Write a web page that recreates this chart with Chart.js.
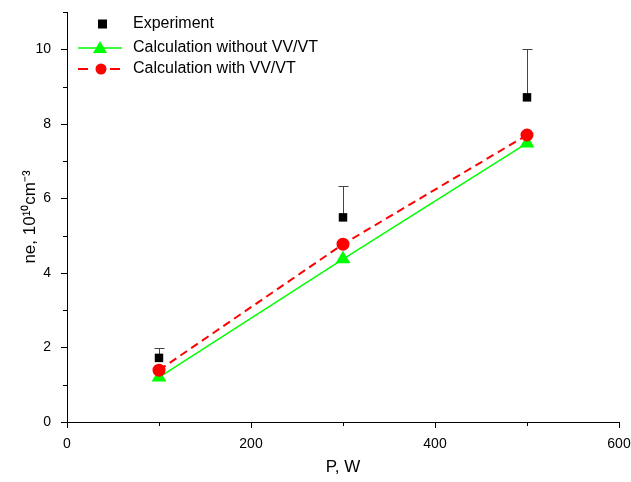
<!DOCTYPE html>
<html>
<head>
<meta charset="utf-8">
<script src="https://cdn.jsdelivr.net/npm/chart.js@4.4.1/dist/chart.umd.min.js"></script>
<style>
  html, body { margin: 0; padding: 0; background: #fff; }
  #wrap { width: 631px; height: 482px; }
</style>
</head>
<body>
<div id="wrap"><canvas id="chart" width="631" height="482"></canvas></div>
<script>
'use strict';

// Data
const power = [100, 300, 500];
const experiment = [1.72, 5.49, 8.71];
const experimentErr = [0.26, 0.84, 1.29];
const calcWithout = [1.2, 4.37, 7.48];
const calcWith = [1.39, 4.77, 7.7];
const xTicks = [0, 200, 400, 600];
const yTicks = [0, 2, 4, 6, 8, 10];

const FONT = '"Liberation Sans", Arial, sans-serif';

const toPoints = function (ys) {
    return power.map((x, i) => ({ x: x, y: ys[i] }));
};

// Error bars (upper only) and outward ticks with minor ticks
const extrasPlugin = {
    id: 'extras',
    beforeDatasetsDraw(chart) {
        const ctx = chart.ctx;
        const xs = chart.scales.x;
        const ys = chart.scales.y;
        ctx.save();
        ctx.strokeStyle = '#444';
        ctx.lineWidth = 1;
        power.forEach((p, i) => {
            const px = Math.round(xs.getPixelForValue(p)) + 0.5;
            const y0 = ys.getPixelForValue(experiment[i]);
            const y1 = Math.round(ys.getPixelForValue(experiment[i] + experimentErr[i])) + 0.5;
            ctx.beginPath();
            ctx.moveTo(px, y0);
            ctx.lineTo(px, y1);
            ctx.moveTo(px - 5, y1);
            ctx.lineTo(px + 5, y1);
            ctx.stroke();
        });
        ctx.restore();
    },
    afterDraw(chart) {
        const ctx = chart.ctx;
        const xs = chart.scales.x;
        const ys = chart.scales.y;
        const area = chart.chartArea;
        ctx.save();
        ctx.strokeStyle = '#000';
        ctx.lineWidth = 1;
        ctx.beginPath();
        for (let v = 0; v <= 600; v += 100) {
            const px = Math.round(xs.getPixelForValue(v)) + 0.5;
            const len = v % 200 === 0 ? 6 : 4;
            ctx.moveTo(px, area.bottom);
            ctx.lineTo(px, area.bottom + len);
        }
        for (let v = 0; v <= 11; v += 1) {
            const py = Math.round(ys.getPixelForValue(v)) + 0.5;
            const len = v % 2 === 0 ? 6 : 4;
            ctx.moveTo(area.left, py);
            ctx.lineTo(area.left - len, py);
        }
        ctx.stroke();

        // Legend
        const lx = 82;
        const rows = [24, 48, 69];
        ctx.font = '16px ' + FONT;
        ctx.textBaseline = 'middle';
        ctx.textAlign = 'left';

        ctx.fillStyle = '#000';
        ctx.fillRect(lx + 16, rows[0] - 4.5, 9, 9);
        ctx.fillText('Experiment', 133, rows[0]);

        ctx.strokeStyle = '#00ff00';
        ctx.lineWidth = 1.5;
        ctx.beginPath();
        ctx.moveTo(lx - 4, rows[1]);
        ctx.lineTo(lx + 40, rows[1]);
        ctx.stroke();
        ctx.fillStyle = '#00ff00';
        ctx.beginPath();
        ctx.moveTo(lx + 18, rows[1] - 7);
        ctx.lineTo(lx + 25, rows[1] + 5);
        ctx.lineTo(lx + 11, rows[1] + 5);
        ctx.closePath();
        ctx.fill();
        ctx.fillStyle = '#000';
        ctx.fillText('Calculation without VV/VT', 133, rows[1]);

        ctx.strokeStyle = '#ff0000';
        ctx.lineWidth = 2;
        ctx.beginPath();
        ctx.moveTo(lx - 4, rows[2]);
        ctx.lineTo(lx + 6, rows[2]);
        ctx.moveTo(lx + 28, rows[2]);
        ctx.lineTo(lx + 38, rows[2]);
        ctx.stroke();
        ctx.fillStyle = '#ff0000';
        ctx.beginPath();
        ctx.arc(lx + 19, rows[2], 5.5, 0, Math.PI * 2);
        ctx.fill();
        ctx.fillStyle = '#000';
        ctx.fillText('Calculation with VV/VT', 133, rows[2]);
        ctx.restore();
    },
};

new Chart(document.getElementById('chart'), {
    type: 'scatter',
    data: {
        datasets: [
            {
                label: 'Experiment',
                data: toPoints(experiment),
                pointStyle: 'rect',
                pointRadius: 6,
                backgroundColor: '#000',
                borderColor: '#000',
                borderWidth: 0,
                showLine: false,
                order: 3,
            },
            {
                label: 'Calculation without VV/VT',
                data: toPoints(calcWithout),
                pointStyle: 'triangle',
                pointRadius: 7,
                backgroundColor: '#00ff00',
                borderColor: '#00ff00',
                borderWidth: 1.5,
                showLine: true,
                order: 2,
            },
            {
                label: 'Calculation with VV/VT',
                data: toPoints(calcWith),
                pointStyle: 'circle',
                pointRadius: 5.5,
                backgroundColor: '#ff0000',
                borderColor: '#ff0000',
                borderWidth: 2,
                borderDash: [8, 5],
                showLine: true,
                order: 1,
            },
        ],
    },
    options: {
        responsive: false,
        animation: false,
        layout: { padding: { top: 12, right: 12, left: 16, bottom: 0 } },
        plugins: {
            legend: { display: false },
            tooltip: { enabled: false },
        },
        scales: {
            x: {
                type: 'linear',
                min: 0,
                max: 600,
                afterBuildTicks: (scale) => {
                    scale.ticks = xTicks.map((v) => ({ value: v }));
                },
                afterFit: (scale) => {
                    scale.height = 60;
                    scale.paddingLeft = 0;
                    scale.paddingRight = 0;
                },
                grid: { display: false },
                border: { display: true, color: '#000', width: 1 },
                ticks: {
                    color: '#000',
                    font: { family: FONT, size: 14 },
                    padding: 6,
                    maxRotation: 0,
                },
                title: {
                    display: true,
                    text: 'P, W',
                    color: '#000',
                    font: { family: FONT, size: 17 },
                    padding: { top: 6 },
                },
            },
            y: {
                type: 'linear',
                min: 0,
                max: 11,
                afterBuildTicks: (scale) => {
                    scale.ticks = yTicks.map((v) => ({ value: v }));
                },
                afterFit: (scale) => {
                    scale.width = 51;
                    scale.paddingTop = 0;
                    scale.paddingBottom = 0;
                },
                grid: { display: false },
                border: { display: true, color: '#000', width: 1 },
                ticks: {
                    color: '#000',
                    font: { family: FONT, size: 14 },
                    padding: 8,
                },
                title: {
                    display: true,
                    text: 'ne, 10¹⁰cm⁻³',
                    color: '#000',
                    font: { family: FONT, size: 17 },
                    padding: { bottom: 4 },
                },
            },
        },
    },
    plugins: [extrasPlugin],
});
</script>
</body>
</html>
